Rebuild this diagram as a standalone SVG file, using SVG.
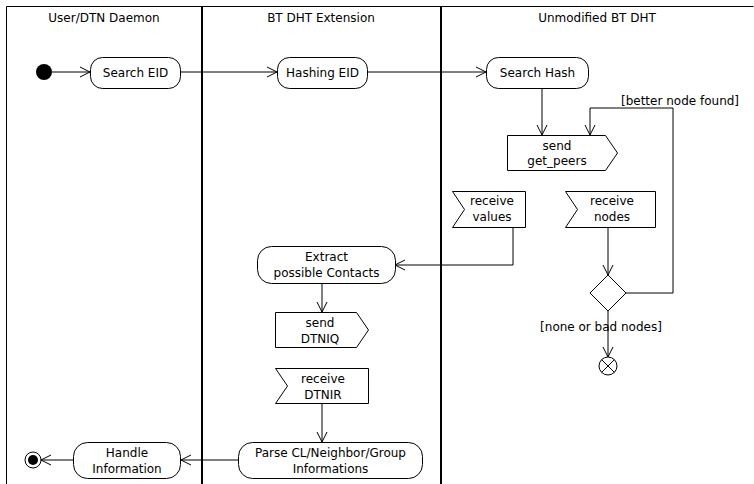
<svg xmlns="http://www.w3.org/2000/svg" width="754" height="484" viewBox="0 0 754 484">
<defs>
<style>
text{font-family:"DejaVu Sans","Liberation Sans",sans-serif;font-size:12px;fill:#000;text-anchor:middle}
.n{fill:#fff;stroke:#000;stroke-width:1}
.c{fill:none;stroke:#000;stroke-width:1}
.lane{fill:none;stroke:#000;stroke-width:1}
.div{stroke:#000;stroke-width:2}
</style>
<marker id="ah" markerWidth="12" markerHeight="12" refX="11" refY="6" orient="auto" markerUnits="userSpaceOnUse">
<path d="M1,1 L11,6 L1,11" fill="none" stroke="#000" stroke-width="1"/>
</marker>
</defs>
<rect width="754" height="484" fill="#fff"/>
<g id="lanes">
<path class="lane" d="M6.5,490 V6.5 H753.5"/>
<line class="div" x1="202" y1="6" x2="202" y2="490"/>
<line class="div" x1="441" y1="6" x2="441" y2="490"/>
<text x="104" y="22">User/DTN Daemon</text>
<text x="321" y="22">BT DHT Extension</text>
<text x="597" y="22">Unmodified BT DHT</text>
</g>
<g id="connectors">
<line class="c" x1="52" y1="72" x2="90" y2="72" marker-end="url(#ah)"/>
<line class="c" x1="181" y1="72" x2="277" y2="72" marker-end="url(#ah)"/>
<line class="c" x1="368" y1="72" x2="486" y2="72" marker-end="url(#ah)"/>
<line class="c" x1="542" y1="88" x2="542" y2="135" marker-end="url(#ah)"/>
<polyline class="c" points="626,293 673,293 673,108 590,108 590,135" marker-end="url(#ah)"/>
<polyline class="c" points="513,227 513,265 395,265" marker-end="url(#ah)"/>
<line class="c" x1="608" y1="227" x2="608" y2="275" marker-end="url(#ah)"/>
<line class="c" x1="608" y1="311" x2="608" y2="357" marker-end="url(#ah)"/>
<line class="c" x1="322" y1="283" x2="322" y2="312" marker-end="url(#ah)"/>
<line class="c" x1="322" y1="403" x2="322" y2="442" marker-end="url(#ah)"/>
<line class="c" x1="238" y1="460" x2="181" y2="460" marker-end="url(#ah)"/>
<line class="c" x1="73" y1="460" x2="41" y2="460" marker-end="url(#ah)"/>
<text x="680" y="105">[better node found]</text>
<text x="601" y="331">[none or bad nodes]</text>
</g>
<g id="start"><circle cx="44" cy="72" r="8" fill="#000"/></g>
<g id="searchEID"><rect class="n" x="90.5" y="57.5" width="90" height="31" rx="12"/><text x="135.5" y="77">Search EID</text></g>
<g id="hashingEID"><rect class="n" x="277.5" y="57.5" width="90" height="31" rx="12"/><text x="322.5" y="77">Hashing EID</text></g>
<g id="searchHash"><rect class="n" x="486.5" y="57.5" width="102" height="31" rx="12"/><text x="537.5" y="77">Search Hash</text></g>
<g id="sendGetPeers"><polygon class="n" points="507.5,135.5 605.5,135.5 617.5,153 605.5,170.5 507.5,170.5"/><text x="557" y="150">send</text><text x="557" y="165">get_peers</text></g>
<g id="receiveValues"><polygon class="n" points="452.5,191.5 525.5,191.5 525.5,227.5 452.5,227.5 464.5,209.5"/><text x="492" y="205">receive</text><text x="492" y="221">values</text></g>
<g id="receiveNodes"><polygon class="n" points="565.5,191.5 655.5,191.5 655.5,227.5 565.5,227.5 577.5,209.5"/><text x="612" y="205">receive</text><text x="612" y="221">nodes</text></g>
<g id="extract"><rect class="n" x="257.5" y="246.5" width="138" height="37" rx="14"/><text x="326.5" y="261">Extract</text><text x="326.5" y="277">possible Contacts</text></g>
<g id="decision"><polygon class="n" points="608,275 626,293 608,311 590,293"/></g>
<g id="flowFinal"><circle class="n" cx="608" cy="366" r="9"/><path class="c" d="M601.6,359.6 L614.4,372.4 M614.4,359.6 L601.6,372.4"/></g>
<g id="sendDTNIQ"><polygon class="n" points="275.5,312.5 356.5,312.5 368.5,330 356.5,347.5 275.5,347.5"/><text x="320" y="327">send</text><text x="320" y="343">DTNIQ</text></g>
<g id="receiveDTNIR"><polygon class="n" points="275.5,368.5 368.5,368.5 368.5,403.5 275.5,403.5 287.5,386"/><text x="323" y="383">receive</text><text x="323" y="399">DTNIR</text></g>
<g id="parse"><rect class="n" x="238.5" y="442.5" width="184" height="36" rx="14"/><text x="330.5" y="457">Parse CL/Neighbor/Group</text><text x="330.5" y="473">Informations</text></g>
<g id="handle"><rect class="n" x="73.5" y="442.5" width="107" height="36" rx="14"/><text x="127" y="457">Handle</text><text x="127" y="473">Information</text></g>
<g id="final"><circle class="n" cx="33" cy="460" r="8"/><circle cx="33" cy="460" r="5" fill="#000"/></g>
</svg>
